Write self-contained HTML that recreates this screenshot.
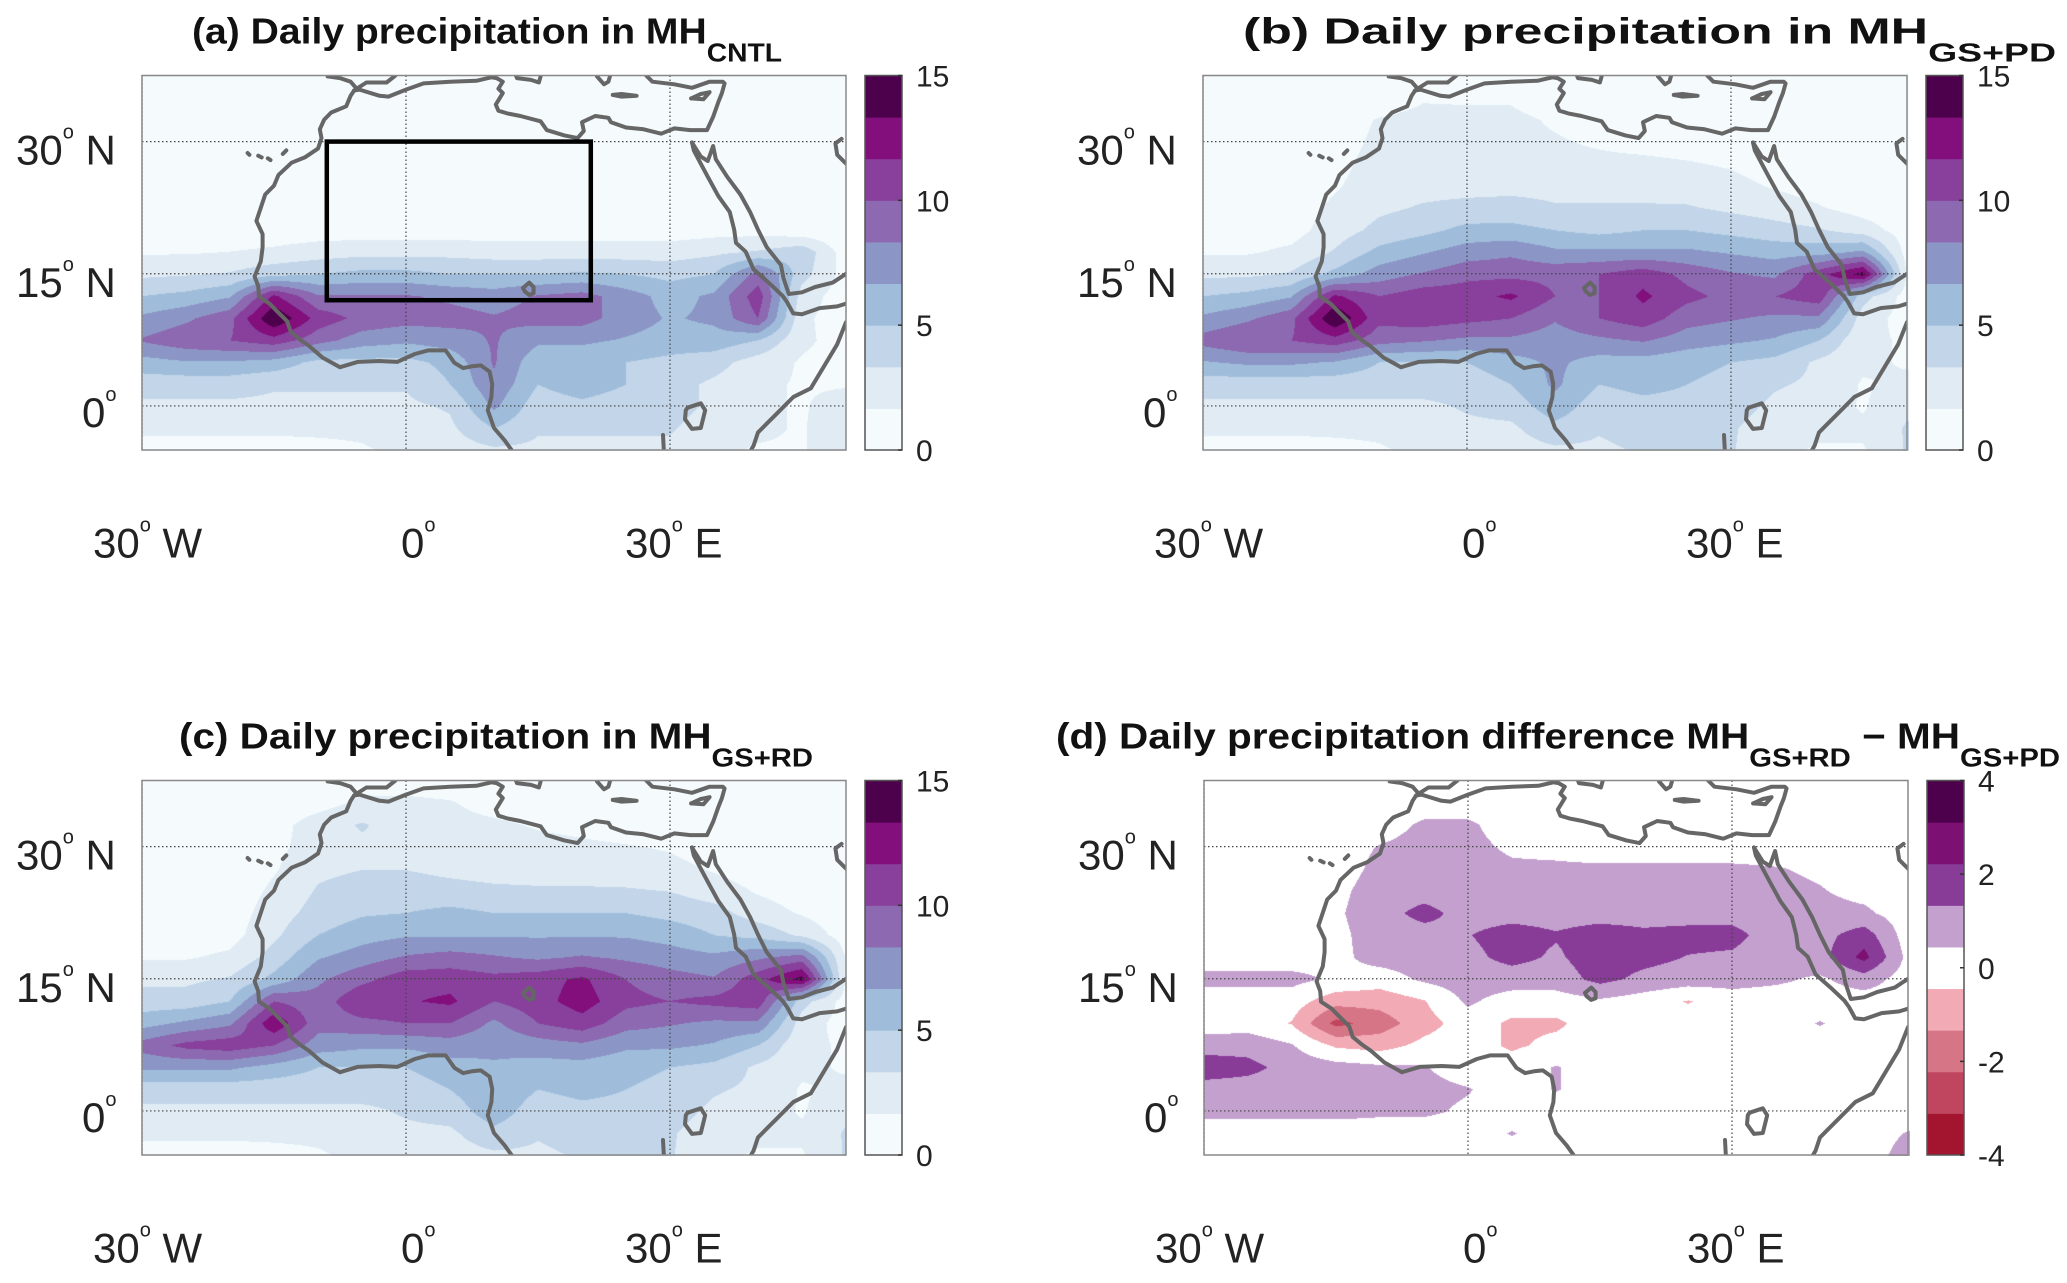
<!DOCTYPE html>
<html><head><meta charset="utf-8">
<style>
html,body{margin:0;padding:0;background:#fff;}
#wrap{position:relative;width:2067px;height:1283px;overflow:hidden;background:#fff;font-family:"Liberation Sans",Arial,sans-serif;}
canvas{position:absolute;}
svg{position:absolute;left:0;top:0;}
</style></head>
<body>
<div id="wrap">
<canvas id="cva" width="704" height="375" style="left:142px;top:75.5px"></canvas>
<canvas id="cvb" width="706" height="375" style="left:1203px;top:75.5px"></canvas>
<canvas id="cvc" width="704" height="375" style="left:142px;top:780.5px"></canvas>
<canvas id="cvd" width="706" height="375" style="left:1204px;top:780.5px"></canvas>
<svg id="ov" width="2067" height="1283" xmlns="http://www.w3.org/2000/svg"></svg>
</div>
<script>
// ---- data ----
const lons = [-30,-25,-20,-15,-10,-5,0,5,10,15,20,25,30,35,40,45,50];
const lats = [37.5,35,32.5,30,27.5,25,22.5,20,17.5,15,12.5,10,7.5,5,2.5,0,-2.5,-5];
const precipLevels = [0,1.667,3.333,5,6.667,8.333,10,11.667,13.333,15];
const precipColors = ['#f5fbfd','#e0ebf4','#c2d5e9','#9fbddb','#8c96c6','#8c69b0','#88409c','#820f7c','#4d004b'];
const diffLevels = [-4,-3.111,-2.222,-1.333,-0.444,0.444,1.333,2.222,3.111,4];
const diffColors = ['#a3142e','#c0455e','#d67586','#f2aab5','#ffffff','#c3a0ce','#883c98','#7d1173','#4d004b'];
const precipTicks = [0,5,10,15];
const diffTicks = [-4,-2,0,2,4];

const precipA = [
[0.3,0.3,0.3,0.3,0.3,0.3,0.3,0.3,0.3,0.3,0.3,0.3,0.3,0.3,0.3,0.3,0.3],
[0.3,0.3,0.3,0.3,0.3,0.3,0.3,0.3,0.3,0.3,0.3,0.3,0.3,0.3,0.3,0.3,0.3],
[0.3,0.3,0.3,0.3,0.3,0.3,0.3,0.3,0.3,0.3,0.3,0.3,0.3,0.3,0.3,0.3,0.3],
[0.3,0.3,0.3,0.3,0.3,0.3,0.3,0.3,0.3,0.3,0.3,0.3,0.3,0.3,0.3,0.3,0.3],
[0.3,0.3,0.3,0.3,0.3,0.3,0.3,0.3,0.3,0.3,0.3,0.3,0.3,0.3,0.3,0.3,0.3],
[0.3,0.3,0.3,0.3,0.3,0.3,0.3,0.3,0.3,0.3,0.3,0.3,0.3,0.3,0.3,0.3,0.3],
[0.4,0.4,0.4,0.4,0.5,0.5,0.5,0.5,0.5,0.5,0.5,0.5,0.5,0.5,0.5,0.4,0.3],
[0.5,0.5,0.5,0.7,0.8,0.8,0.8,0.8,0.8,0.8,0.8,0.8,0.8,1,1,0.5,0.3],
[1.5,1.5,1.7,2,2.5,2.8,2.8,2.8,2.5,2.5,2.5,2.5,2.5,3,3.5,4.5,0.8],
[3,3.2,3.5,4.5,5,5.5,5.5,5,5,5,5.3,5,4.5,5,9,4,1],
[5,5.5,6.5,12,8.5,8.5,8.5,8,7.5,8.5,9,7.5,6,7,11,2.5,0.8],
[7,8,9.5,15,11,9.5,9,9,8.5,9,9,7.5,6.5,7,10,2,0.8],
[8.5,9.5,10,11,9,7.5,7,7.5,8.5,7,7,6.5,6,6,5,2,1],
[6,6.5,6.5,6,4.5,4.5,4.5,5.5,8.5,5.5,5.5,5,4.5,4,2.5,1.5,1],
[4,4,4,3.5,3.5,3.5,3.5,5,8,5,6,5,4,3,2,1.5,1.5],
[3,3,3,3,3,3,3,3.5,7,4,4.5,4,4,3,2,1.5,2.5],
[2,2,2,2,2,2,2.5,3,5,3.5,3.5,3.5,3.5,2.5,2,1.5,3],
[1,1,1,1,1.2,1.5,2,2.5,3,3,3,3,3,2,1.5,1.5,3]];

const precipB = [
[0.4,0.4,0.4,0.4,0.5,0.8,0.8,0.6,0.5,0.5,0.5,0.5,0.5,0.5,0.5,0.5,0.5],
[0.4,0.4,0.4,0.4,0.6,1.5,1.5,1.5,0.8,0.5,0.5,0.5,0.5,0.5,0.5,0.5,0.5],
[0.4,0.4,0.4,0.8,1.8,2.2,2,2,1.5,1,0.8,0.6,0.5,0.5,0.5,0.5,0.5],
[0.4,0.4,0.4,1,2,2.2,2.2,2,1.8,1.5,1.2,1,0.8,0.6,0.5,0.5,0.5],
[0.4,0.4,0.5,1.2,2.3,2.5,2.5,2.3,2,2,2,1.8,1.5,0.8,0.6,0.5,0.5],
[0.4,0.4,0.6,1.5,2.5,2.8,2.8,2.8,2.8,2.8,2.8,2.5,2.2,1.5,1,0.6,0.5],
[0.5,0.5,0.8,2,3,3.5,3.8,4,3.5,3.5,3.5,3.5,3,2.5,1.8,1,0.5],
[0.8,0.8,1,2.5,3.8,4.5,5.5,5.5,5,4.5,5,5,4.5,4,3.5,2.5,0.8],
[1.5,1.5,2,3.5,5.5,6.5,7.5,8,7,7,7,7,6.5,6,6,7,1],
[3,3,3.5,5.5,7.5,8.5,9.5,9.5,9.5,10,11,9.5,8.5,8,11,14,1.5],
[5,5.5,6.5,12,10,11,11,12,10,10,12,10.5,9.5,10,11,4,1],
[7,8,9.5,15,10.5,11,10.5,10,8.5,10,11,9,8.5,8,8,2.5,1],
[9,10,10,11,9,8.5,8,8,7.5,8,8.5,7.5,7,6.5,5,2,1.5],
[6.5,7,7,6.5,5,5,5,6,7,6,6,5.5,5,4.5,3,2,1.5],
[4,4,4,4,4,4,4,5,7,5,5.5,5,4.5,3.5,3,1.5,2],
[3,3,3,3,3,3,3.5,4,6,4,4.5,4.5,4,3,2.5,1.5,3],
[2,2,2,2,2,2.5,3,3,4.5,3.5,4,4,3.5,2.5,2,2,3.5],
[1,1,1,1.2,1.5,2,2.5,2.5,3,3,3.5,3.5,3.5,2,1.5,1.5,3.5]];

const precipC = [
[0.4,0.4,0.4,0.4,0.6,1,1,0.8,0.5,0.5,0.5,0.5,0.5,0.5,0.5,0.5,0.5],
[0.4,0.4,0.4,0.5,1,2,2,1.8,1,0.6,0.5,0.5,0.5,0.5,0.5,0.5,0.5],
[0.4,0.4,0.4,1,2.5,3.5,2.5,2.2,2,1.5,1.2,0.8,0.6,0.5,0.5,0.5,0.5],
[0.4,0.4,0.4,1.2,2.5,3,3,2.8,2.5,2.2,2,1.8,1.5,0.8,0.5,0.5,0.5],
[0.4,0.4,0.5,1.5,3,3.3,3.3,3,2.8,2.8,2.8,2.5,2.2,1.5,0.8,0.5,0.5],
[0.4,0.4,0.6,2,3.5,4,4,3.8,3.6,3.5,3.5,3.5,3.3,2.5,1.5,0.8,0.5],
[0.5,0.5,0.8,2.5,4,4.8,5,5.5,5,5,5,5,4.5,4,2.5,1.5,0.5],
[0.8,0.8,1,3,5,6,6.5,6.5,6.5,6.5,6.5,6.5,6,5,4.5,3,0.8],
[1.5,1.5,2,4,6.5,7.5,8.5,9,8.5,8,8.5,8,7.5,7,8,9,1.5],
[3,3,3.5,5.5,8,9.5,11,11,10.5,11,12,10,9,8.5,11,14,1.5],
[4,4,5,10,9,11.5,11.5,12,10,11,12.5,10.5,10,10.5,11,4,1],
[6,7,8,13,9,9.5,10,10,8,10,11,9,8.5,8,8,2.5,1],
[9,10.5,11,10,7.5,7,7,7.5,7,7.5,8,7,7,6.5,5,2,1.5],
[7,7,7,6,5,5,5,6,6.5,6,6,5.5,5,4.5,3,2,1.5],
[4,4,4,4,4,4,4,5,6.5,5,5.5,5,4.5,3.5,3,1.5,2],
[3,3,3,3,3,3,3.5,4,6,4,4.5,4.5,4,3,2.5,1.5,3],
[2,2,2,2,2,2.5,3,3,4.5,3.5,4,4,3.5,2.5,2,2,3.5],
[1,1,1,1.2,1.5,2,2.5,2.5,3,3,3.5,3.5,3.5,2,1.5,1.5,3.5]];

const precipDiff = [
[0,0,0,0,0,0,0,0,0,0,0,0,0,0,0,0,0],
[0,0,0,0,0,0,0,0,0,0,0,0,0,0,0,0,0],
[0,0,0,0,0,0.6,0.6,0,0,0,0,0,0,0,0,0,0],
[0,0,0,0,0.5,0.8,0.7,0.3,0.2,0,0,0,0,0,0,0,0],
[0,0,0,0,0.7,0.9,0.8,0.6,0.6,0.6,0.6,0.6,0.6,0.5,0.3,0,0],
[0,0,0,0.2,0.9,1,0.9,0.9,0.9,0.9,0.9,0.9,0.9,0.7,0.5,0.2,0],
[0,0,0,0.3,1,1.6,1,1,1,1,1,1,1,0.9,0.7,0.6,0],
[0,0,0,0.2,0.9,1,1.3,1.7,1.4,1.7,1.5,1.6,1.6,0.9,1,1.8,0],
[0,0,0,0.2,0.8,0.9,1.1,1.6,1.2,1.8,1.6,1.3,1.2,0.8,1,2.5,0.2],
[0.7,0.7,0.7,0.3,0,0.6,0.9,0.9,0.9,1.6,1.1,0.9,0.8,0.6,0.3,0.9,0],
[0,0,0,-1,-1,-0.5,0.6,0,0,0.3,0,-0.5,0,0,0,0,0],
[0,0,-0.5,-2.5,-1.8,-0.8,0,-0.6,-0.6,0,0,0,0,0,0.5,0,0],
[0.9,1,0.5,-0.6,-0.8,-0.2,0,-0.6,-0.2,0,0,0,0,0,0,0,0],
[1.9,1.6,1,0.8,0.6,0.5,0,0,0.5,0,0,0,0,0,0,0,0],
[0.9,0.9,0.9,0.9,0.8,0.7,0.5,0,0.5,0,0,0,0,0,0,0,0],
[0.7,0.7,0.7,0.7,0.6,0.6,0.3,0,0,0,0,0,0,0,0,0,0],
[0,0,0,0,0,0,0,0.5,0,0,0,0,0,0,0,0,0.5],
[0,0,0,0,0,0,0,0,0,0,0,0,0,0,0,0,0.8]];

const coastlines = [
[[-8.9,37.4],[-7.5,37.2],[-6.3,36.8],[-5.6,36.0],[-4.5,36.7],[-2.2,36.7],[-1.2,37.5]],
[[-5.9,35.8],[-5.3,35.9],[-3,35.2],[-2,35.1],[0,35.9],[2,36.6],[5,36.8],[8,36.9],[9.7,37.3],[10.3,37.2],[11,36.8],[10.5,36],[11,35.5],[10.2,34.2],[10.5,33.5],[11.5,33.2],[13,32.9],[15.3,32.3],[16,31.3],[18,30.7],[19.5,30.4],[20.2,31.2],[20,32.2],[21.5,32.9],[23,32.7],[23.3,32.2],[25,31.6],[27,31.4],[29,30.9],[30.5,31.5],[32.3,31.3],[34.2,31.3],[34.9,32.8],[35.5,34.5],[35.9,35.5],[36.2,36.6],[36,36.8],[34.5,36.8],[32.5,36.1],[30.5,36.5],[28,36.8],[27.3,37.5]],
[[-5.9,35.8],[-6.3,35.2],[-6.8,34],[-8.5,33.3],[-9.3,32.5],[-9.8,31.4],[-9.6,30.4],[-10,29.2],[-11.5,28.2],[-13,27.6],[-14.5,26.2],[-15,25],[-16,24],[-16.5,22.5],[-17,21],[-16.3,19.5],[-16.3,18],[-16.5,16.4],[-17.2,14.7],[-16.8,13.6],[-16.7,12.4],[-15.5,11.6],[-14.7,10.8],[-13.5,9.6],[-13.1,8.4],[-12,7.5],[-11,6.8],[-9.5,5.5],[-7.5,4.4],[-5.5,5],[-3,5.1],[-1,5],[1,5.9],[2.5,6.3],[4.5,6.3],[5.5,4.9],[6.5,4.3],[7.5,4.5],[8.5,4.6],[9.5,3.9],[9.8,2.5],[9.7,1],[9.3,-0.5],[10,-2.5],[11.2,-3.9],[12,-5]],
[[32.5,29.9],[32.7,29],[33.6,27.3],[34.3,26],[35.5,23.8],[36.8,22],[37.3,20],[37.5,18.5],[38.6,17.5],[39.5,15.5],[41.2,14],[42.8,12.5],[43.3,11.8],[44,10.5],[45,10.4],[47,11.1],[49,11.3],[50,11.6]],
[[32.5,29.9],[33.5,28.3],[34.3,27.8],[34.9,29.5],[35.2,28],[36.5,26],[38,24],[39.1,22],[40,20],[41,18],[42.6,16],[42.9,14.5],[43.5,12.7],[45,12.9],[46.5,13.5],[48.5,14],[50,15]],
[[50,9.5],[49,7],[47.5,4.5],[46,2],[44,1],[42,-1],[41,-2],[40,-3],[39.5,-4.5],[39.2,-5]],
[[49.5,30.3],[48.8,29.8],[49,28.5],[50,27.5]],
[[32,-0.2],[33.5,0.3],[34,-0.5],[33.5,-2.5],[32.5,-2.6],[31.7,-1.5],[31.8,-0.5],[32,-0.2]],
[[13.3,13.4],[14,14],[14.5,13.5],[14.5,12.8],[14,12.6],[13.5,13],[13.3,13.4]],
[[29.2,-3.3],[29.3,-5]],
[[23.5,35.3],[24.5,35.4],[26.2,35.2],[24.5,35.1],[23.5,35.3]],
[[32.4,34.9],[33.5,35.4],[34.5,35.6],[33.8,34.8],[32.4,34.9]],
[[12.5,37.5],[12.6,37.2],[14.2,37.0],[15.1,36.7],[15.3,37.4]],
[[21.7,37.4],[22.5,36.5],[23,36.8],[23.2,37.5]],
[[-16.8,28.4],[-16.4,28.2]],[[-15.7,28.1],[-15.4,27.9]],[[-14,28.6],[-13.6,29.0]],[[-18,28.7],[-17.8,28.5]]
];
const boxLon = [-9, 21];
const boxLat = [12, 30];

// ---- geometry ----
const PW = 704, PH = 374.5;
function xOf(lon, ox){ return ox + (lon + 30) * PW / 80; }
function yOf(lat, oy){ return oy + (37.5 - lat) * PH / 42.5; }

function sample(grid, lon, lat){
  let fx = (lon + 30) / 5, fy = (37.5 - lat) / 2.5;
  fx = Math.max(0, Math.min(16, fx)); fy = Math.max(0, Math.min(17, fy));
  const i0 = Math.min(15, Math.floor(fx)), j0 = Math.min(16, Math.floor(fy));
  const tx = fx - i0, ty = fy - j0;
  const a = grid[j0][i0], b = grid[j0][i0+1], c = grid[j0+1][i0], d = grid[j0+1][i0+1];
  return (a*(1-tx)+b*tx)*(1-ty) + (c*(1-tx)+d*tx)*ty;
}
function hex(h){ return [parseInt(h.substr(1,2),16),parseInt(h.substr(3,2),16),parseInt(h.substr(5,2),16)]; }
function drawField(id, grid, levels, colors){
  const cv = document.getElementById(id), ctx = cv.getContext('2d');
  const W = cv.width, H = cv.height;
  const img = ctx.createImageData(W, H);
  const rgb = colors.map(hex);
  for (let py = 0; py < H; py++){
    const lat = 37.5 - (py + 0.5) * 42.5 / PH;
    for (let px = 0; px < W; px++){
      const lon = -30 + (px + 0.5) * 80 / PW;
      const v = sample(grid, lon, lat);
      let k = 0;
      while (k < colors.length - 1 && v >= levels[k+1]) k++;
      const c = rgb[k], o = (py*W + px)*4;
      img.data[o]=c[0]; img.data[o+1]=c[1]; img.data[o+2]=c[2]; img.data[o+3]=255;
    }
  }
  ctx.putImageData(img, 0, 0);
}
drawField('cva', precipA, precipLevels, precipColors);
drawField('cvb', precipB, precipLevels, precipColors);
drawField('cvc', precipC, precipLevels, precipColors);
drawField('cvd', precipDiff, diffLevels, diffColors);

// ---- overlay ----
const NS = 'http://www.w3.org/2000/svg';
const ov = document.getElementById('ov');
function mk(tag, attrs, parent){
  const e = document.createElementNS(NS, tag);
  for (const k in attrs) e.setAttribute(k, attrs[k]);
  (parent || ov).appendChild(e); return e;
}
function degLabel(g, x, y, num, suffix, name){
  const t = mk('text', {x:x, y:y, 'font-size':42, fill:'#222', 'font-family':'"Liberation Sans", sans-serif'}, g);
  
  
  const a = mk('tspan', {}, t); a.textContent = num;
  const b = mk('tspan', {'font-size':20, dy:-26}, t); b.textContent = 'o';
  const c = mk('tspan', {dy:26}, t); c.textContent = suffix ? '\u00a0' + suffix : '';
}

const panels = [
  {ox:142, oy:75.5, kind:'p', title:'(a) Daily precipitation in MH', sub:'CNTL', tx:192, tw:590, box:true, name:'a'},
  {ox:1203, oy:75.5, kind:'p', title:'(b) Daily precipitation in MH', sub:'GS+PD', tx:1243, tw:813, name:'b'},
  {ox:142, oy:780.5, kind:'p', title:'(c) Daily precipitation in MH', sub:'GS+RD', tx:179, tw:634, name:'c'},
  {ox:1204, oy:780.5, kind:'d', title:'(d) Daily precipitation difference MH', sub:'GS+RD', tail:' \u2212 MH', sub2:'GS+PD', tx:1056, tw:1004, name:'d'}
];

panels.forEach(p => {
  const g = mk('g', {});
  
  
  const ox = p.ox, oy = p.oy;
  [-30, 0, 30].forEach(lo => {
    const l = mk('line', {x1:xOf(lo,ox), x2:xOf(lo,ox), y1:oy, y2:oy+PH, stroke:'#444', 'stroke-width':1.2, 'stroke-dasharray':'1.5 2.5'}, g);
    
    
  });
  [0, 15, 30].forEach(la => {
    const l = mk('line', {x1:ox, x2:ox+PW, y1:yOf(la,oy), y2:yOf(la,oy), stroke:'#444', 'stroke-width':1.2, 'stroke-dasharray':'1.5 2.5'}, g);
    
    
  });
  const cp = mk('clipPath', {id:'clip-' + p.name}, g);
  mk('rect', {x:ox, y:oy, width:PW, height:PH}, cp);
  coastlines.forEach(seg => {
    const d = seg.map((pt, i) => (i ? 'L' : 'M') + xOf(pt[0],ox).toFixed(1) + ' ' + yOf(pt[1],oy).toFixed(1)).join(' ');
    const path = mk('path', {d:d, fill:'none', stroke:'#666', 'stroke-width':4, 'stroke-linejoin':'round', 'stroke-linecap':'round', 'clip-path':'url(#clip-' + p.name + ')'}, g);
    
    
  });
  if (p.box){
    const r = mk('rect', {x:xOf(boxLon[0],ox), y:yOf(boxLat[1],oy), width:xOf(boxLon[1],ox)-xOf(boxLon[0],ox), height:yOf(boxLat[0],oy)-yOf(boxLat[1],oy), fill:'none', stroke:'#000', 'stroke-width':4.5}, g);
    
    
  }
  const fr = mk('rect', {x:ox, y:oy, width:PW, height:PH, fill:'none', stroke:'#888', 'stroke-width':1.5}, g);
  
  
  degLabel(g, ox-126, yOf(30,oy)+23, '30', 'N', 'lat-label-30n');
  degLabel(g, ox-126, yOf(15,oy)+23, '15', 'N', 'lat-label-15n');
  degLabel(g, ox-60, yOf(0,oy)+21, '0', '', 'lat-label-0');
  degLabel(g, ox-49, oy+482, '30', 'W', 'lon-label-30w');
  degLabel(g, ox+259, oy+482, '0', '', 'lon-label-0');
  degLabel(g, ox+483, oy+482, '30', 'E', 'lon-label-30e');
  const tt = mk('text', {x:p.tx, y:oy-32, 'font-size':36, 'font-weight':'bold', fill:'#111', textLength:p.tw, lengthAdjust:'spacingAndGlyphs', 'font-family':'"Liberation Sans", sans-serif'}, g);
  
  
  const t1 = mk('tspan', {}, tt); t1.textContent = p.title;
  const t2 = mk('tspan', {dy:18, 'font-size':26}, tt); t2.textContent = p.sub;
  if (p.tail){
    const t3 = mk('tspan', {dy:-18}, tt); t3.textContent = p.tail;
    const t4 = mk('tspan', {dy:18, 'font-size':26}, tt); t4.textContent = p.sub2;
  }
  const cbx = ox + 723, cbw = 37;
  const levels = p.kind === 'p' ? precipLevels : diffLevels;
  const colors = p.kind === 'p' ? precipColors : diffColors;
  const ticks = p.kind === 'p' ? precipTicks : diffTicks;
  const lo = levels[0], hi = levels[levels.length-1];
  const cy = v => oy + PH - (v - lo) / (hi - lo) * PH;
  const cb = mk('g', {}, g);
  
  
  colors.forEach((c, i) => {
    const r = mk('rect', {x:cbx, y:cy(levels[i+1]), width:cbw, height:cy(levels[i])-cy(levels[i+1])+0.5, fill:c}, cb);
    
    
  });
  mk('rect', {x:cbx, y:oy, width:cbw, height:PH, fill:'none', stroke:'#555', 'stroke-width':1.5}, cb);
  ticks.forEach(v => {
    mk('line', {x1:cbx+cbw-4, x2:cbx+cbw, y1:cy(v), y2:cy(v), stroke:'#333', 'stroke-width':1.5}, cb);
    const tl = mk('text', {x:cbx+51, y:cy(v)+11, 'font-size':30, fill:'#222', 'font-family':'"Liberation Sans", sans-serif'}, cb);
    
    
    tl.textContent = String(v);
  });
});
</script>
</body></html>
